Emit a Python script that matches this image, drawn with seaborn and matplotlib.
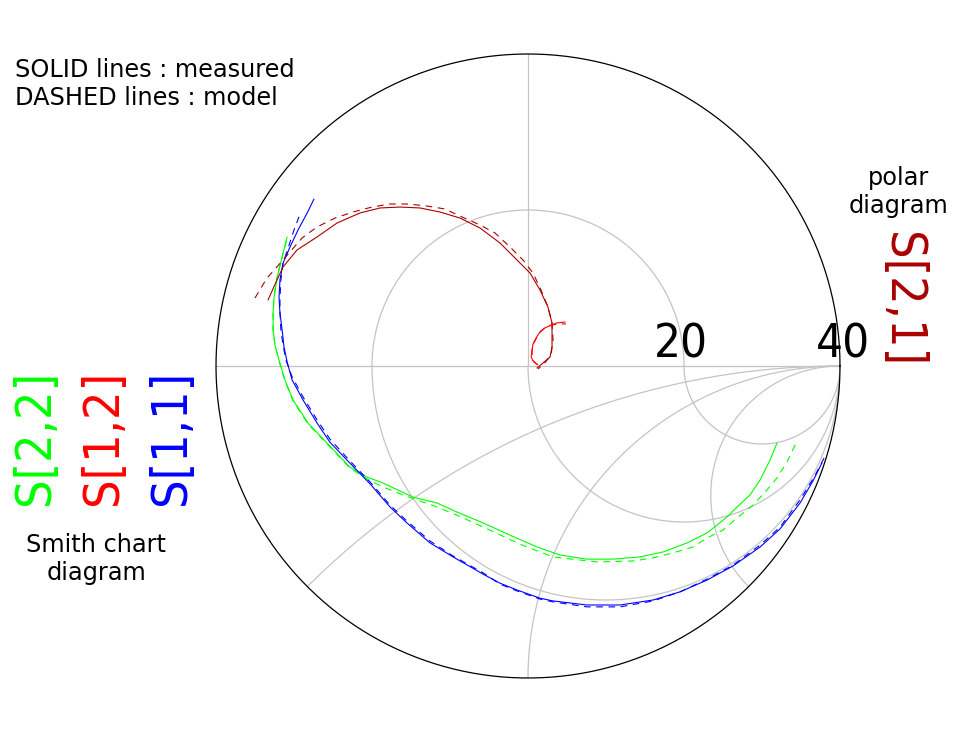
import numpy as np
import matplotlib
matplotlib.use("Agg")
import matplotlib.pyplot as plt
import seaborn as sns

sns.set_style("white")
plt.rcParams['font.family'] = ['DejaVu Sans']
plt.rcParams['text.color'] = 'black'

W, H = 960, 730
POLAR_MAX = 40  # S[2,1] scale at the outer ring

# S[1,1] reflection coefficient (measured / model)
s11_re = [0.942, 0.913, 0.872, 0.808, 0.744, 0.657, 0.574, 0.487, 0.401, 0.295, 0.189, 0.080,
          0.038, -0.035, -0.090, -0.144, -0.240, -0.314, -0.388, -0.442, -0.506, -0.571, -0.635, -0.676, -0.721,
          -0.756, -0.772, -0.782, -0.788, -0.795, -0.798, -0.795, -0.785, -0.763, -0.737, -0.708, -0.686]
s11_im = [-0.311, -0.369, -0.439, -0.522, -0.580, -0.641, -0.686, -0.724, -0.750, -0.766, -0.766, -0.753,
          -0.744, -0.718, -0.696, -0.667, -0.612, -0.567, -0.503, -0.452, -0.378, -0.311, -0.244, -0.183, -0.109,
          -0.045, 0.013, 0.061, 0.115, 0.170, 0.221, 0.276, 0.330, 0.381, 0.436, 0.490, 0.535]
s11_model_re = [0.949, 0.917, 0.872, 0.808, 0.744, 0.657, 0.574, 0.487, 0.401, 0.295, 0.189, 0.080,
                0.038, -0.035, -0.090, -0.144, -0.240, -0.314, -0.388, -0.442, -0.506, -0.571, -0.635, -0.676,
                -0.721, -0.756, -0.776, -0.785, -0.792, -0.795, -0.795, -0.792, -0.785, -0.769, -0.750, -0.728]
s11_model_im = [-0.295, -0.356, -0.429, -0.516, -0.574, -0.638, -0.683, -0.724, -0.753, -0.772, -0.772, -0.756,
                -0.747, -0.721, -0.699, -0.663, -0.609, -0.561, -0.497, -0.446, -0.372, -0.304, -0.234, -0.173,
                -0.099, -0.035, 0.019, 0.067, 0.115, 0.170, 0.221, 0.276, 0.330, 0.378, 0.436, 0.494]

# S[2,2]
s22_re = [0.798, 0.776, 0.744, 0.712, 0.670, 0.638, 0.574, 0.510, 0.433, 0.359, 0.272, 0.189,
          0.103, 0.029, -0.058, -0.144, -0.228, -0.292, -0.369, -0.465, -0.516, -0.571, -0.644, -0.705,
          -0.753, -0.779, -0.798, -0.811, -0.817, -0.817, -0.814, -0.804, -0.788, -0.772]
s22_im = [-0.247, -0.301, -0.365, -0.413, -0.452, -0.484, -0.535, -0.567, -0.596, -0.612, -0.619, -0.619,
          -0.606, -0.580, -0.542, -0.503, -0.468, -0.439, -0.420, -0.375, -0.356, -0.324, -0.247, -0.183,
          -0.109, -0.045, 0.019, 0.067, 0.115, 0.170, 0.221, 0.285, 0.349, 0.413]
s22_model_re = [0.856, 0.830, 0.798, 0.766, 0.721, 0.670, 0.625, 0.574, 0.529, 0.465, 0.401, 0.337,
                0.221, 0.080, -0.026, -0.122, -0.228, -0.292, -0.401, -0.465, -0.516, -0.571, -0.644, -0.705,
                -0.753, -0.779, -0.798, -0.811, -0.817, -0.817, -0.814, -0.804, -0.788, -0.772]
s22_model_im = [-0.253, -0.308, -0.359, -0.397, -0.446, -0.487, -0.526, -0.551, -0.580, -0.599, -0.615, -0.625,
                -0.628, -0.612, -0.571, -0.526, -0.478, -0.452, -0.413, -0.388, -0.362, -0.327, -0.250, -0.186,
                -0.112, -0.048, 0.016, 0.067, 0.115, 0.170, 0.221, 0.285, 0.349, 0.410]

# S[1,2] (small, near the centre)
s12_re = [0.029, 0.016, 0.010, 0.013, 0.016, 0.026, 0.038, 0.054, 0.074, 0.093, 0.119]
s12_im = [0.006, 0.016, 0.029, 0.051, 0.071, 0.090, 0.109, 0.122, 0.131, 0.138, 0.141]
s12_model_re = [0.032, 0.019, 0.013, 0.013, 0.019, 0.029, 0.042, 0.058, 0.077, 0.096, 0.122]
s12_model_im = [0.003, 0.013, 0.029, 0.051, 0.074, 0.093, 0.112, 0.125, 0.131, 0.135, 0.135]

# S[2,1] on the polar scale (0..40)
s21_re = [-33.33, -32.18, -31.41, -29.62, -27.05, -24.49, -21.54, -18.97, -16.41, -13.85, -11.28, -8.72,
          -6.15, -3.59, -1.41, 0.26, 1.54, 2.56, 3.08, 3.08, 3.08, 2.82, 1.92, 1.15]
s21_im = [8.46, 11.03, 12.69, 14.87, 16.54, 18.33, 19.62, 20.26, 20.38, 20.26, 19.74, 18.97,
          17.69, 15.77, 13.59, 11.92, 9.74, 7.56, 5.51, 3.72, 2.44, 1.15, 0.38, -0.26]
s21_model_re = [-35.0, -33.46, -31.41, -28.97, -27.05, -24.74, -22.44, -20.0, -17.69, -15.38, -12.95, -10.64,
                -8.46, -6.15, -4.23, -2.31, -0.64, 0.64, 1.67, 2.56, 3.08, 3.21, 2.95, 2.05, 1.28]
s21_model_im = [8.72, 11.28, 13.59, 16.41, 17.82, 18.97, 19.74, 20.38, 20.77, 20.77, 20.51, 20.13,
                19.10, 18.08, 17.05, 15.26, 13.59, 11.92, 9.74, 7.56, 5.51, 3.33, 1.41, 0.26, -0.38]

# grid values
r_circles = [1 / 3, 1, 3]
x_arcs = [np.sqrt(2) - 1, 1, np.sqrt(2) + 1]

GRID = '#c4c4c4'
DASH = (0, (6, 5))

fig = plt.figure(figsize=(W / 100, H / 100), dpi=100)
ax = fig.add_axes([216 / W, 52 / H, 624 / W, 624 / H])
ax.set_xlim(-1, 1)
ax.set_ylim(-1, 1)
ax.axis('off')

# --- grid: polar half on top, Smith chart half below ---
t = np.linspace(0, 2 * np.pi, 400)
ax.plot(np.cos(t), np.sin(t), color='black', lw=0.9, clip_on=False, zorder=3)
ax.plot([-1, 1], [0, 0], color=GRID, lw=0.9, clip_on=False, zorder=1)
ax.plot([0, 0], [0, 1], color=GRID, lw=0.9, clip_on=False, zorder=1)
th = np.linspace(0, np.pi, 200)
ax.plot(0.5 * np.cos(th), 0.5 * np.sin(th), color=GRID, lw=0.9, zorder=1)

sweep = np.concatenate(([0.0], np.logspace(-3, 3, 500)))
for r in r_circles:
    g = (r - 1j * sweep - 1) / (r - 1j * sweep + 1)
    ax.plot(g.real, g.imag, color=GRID, lw=0.9, zorder=1)
for xv in x_arcs:
    g = (sweep - 1j * xv - 1) / (sweep - 1j * xv + 1)
    ax.plot(g.real, g.imag, color=GRID, lw=0.9, zorder=1)


def draw(re, im, color, model=False, scale=1.0):
    kw = dict(linestyle=DASH) if model else {}
    sns.lineplot(x=np.array(re) / scale, y=np.array(im) / scale, sort=False, estimator=None,
                 color=color, lw=0.8, ax=ax, zorder=4, **kw)


draw(s22_re, s22_im, '#00ff00')
draw(s22_model_re, s22_model_im, '#00ff00', model=True)
draw(s11_re, s11_im, '#0000ff')
draw(s11_model_re, s11_model_im, '#0000ff', model=True)
draw(s21_re, s21_im, '#aa0000', scale=POLAR_MAX)
draw(s21_model_re, s21_model_im, '#aa0000', model=True, scale=POLAR_MAX)
draw(s12_re, s12_im, '#ff0000')
draw(s12_model_re, s12_model_im, '#ff0000', model=True)
ax.set_xlim(-1, 1)
ax.set_ylim(-1, 1)


def put(x, y, s, **kw):
    fig.text(x / W, 1 - y / H, s, **kw)


small = dict(fontsize=17.3, va='baseline', color='black')
put(15, 77, "SOLID lines : measured", ha='left', **small)
put(15, 105, "DASHED lines : model", ha='left', **small)
put(899, 185, "polar", ha='center', **small)
put(899, 213, "diagram", ha='center', **small)
put(96, 552, "Smith chart", ha='center', **small)
put(96, 580, "diagram", ha='center', **small)

big = dict(fontsize=36, ha='center', va='center', fontstretch='condensed')
put(35, 437, "S[2,2]", color='#00ff00', rotation=90, **big)
put(103, 437, "S[1,2]", color='#ff0000', rotation=90, **big)
put(171, 437, "S[1,1]", color='#0000ff', rotation=90, **big)
put(902, 300, "S[2,1]", color='#aa0000', rotation=-90, **big)

num = dict(fontsize=34, ha='center', va='baseline', fontstretch='condensed', color='black')
put(681, 357, "20", **num)
put(843, 357, "40", **num)

fig.savefig("out.png", dpi=100)
